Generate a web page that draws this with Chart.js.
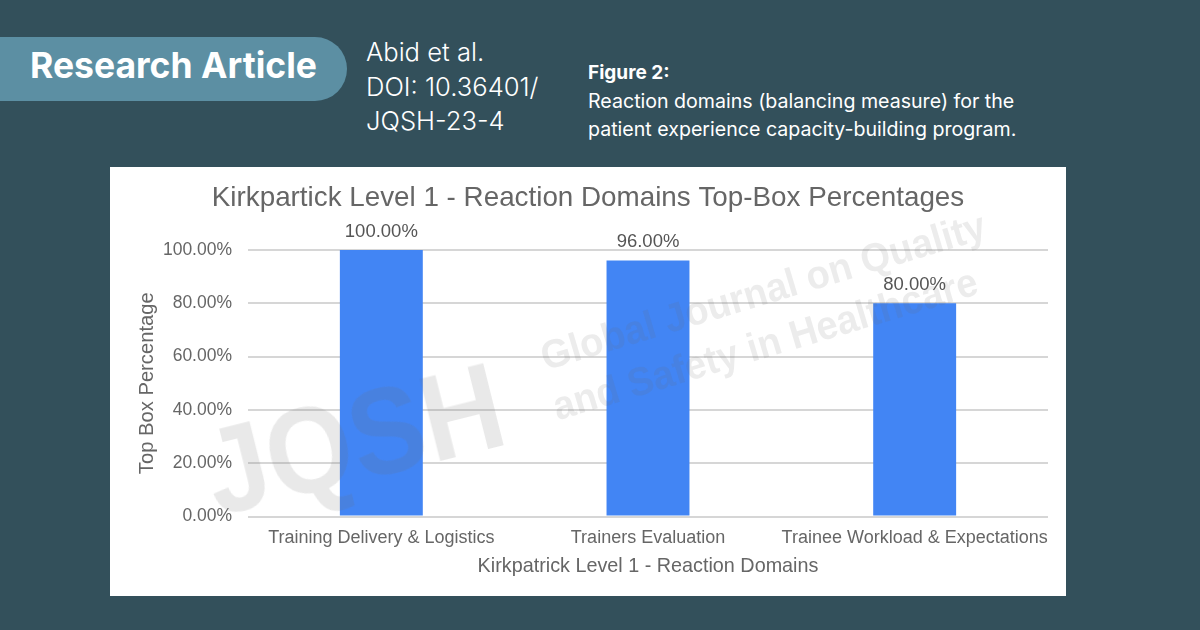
<!DOCTYPE html>
<html>
<head>
<meta charset="utf-8">
<script src="https://cdn.jsdelivr.net/npm/chart.js@4"></script>
<style>
  html, body { margin: 0; padding: 0; }
  body { width: 1200px; height: 630px; background: #33505b; position: relative; overflow: hidden; font-family: Inter, sans-serif; color: #fff; }
  .pill { position: absolute; left: 0; top: 37px; width: 347px; height: 64px; background: #5c8fa3; border-radius: 0 32px 32px 0; }
  .pill span { position: absolute; left: 30px; top: 7px; font-size: 35.5px; line-height: 44px; font-weight: 700; white-space: nowrap; }
  .meta { position: absolute; left: 366px; top: 35px; font-size: 25.6px; line-height: 34.5px; font-weight: 300; white-space: nowrap; }
  .caption { position: absolute; left: 588px; top: 58px; font-size: 19.6px; line-height: 28px; font-weight: 400; white-space: nowrap; }
  .caption b { font-size: 19px; font-weight: 700; }
  .card { position: absolute; left: 110px; top: 167px; width: 956px; height: 429px; background: #fff; }
  .card canvas { position: absolute; left: 0; top: 0; }
  .mark { position: absolute; white-space: nowrap; pointer-events: none; color: rgba(110,110,110,.15); font-family: "Liberation Sans", sans-serif; transform-origin: left bottom; }
  .mark.small { color: rgba(110,110,110,.13); font-size: 40px; line-height: 46px; font-weight: 700; transform: rotate(-16.7deg) scaleX(.95); }
</style>
</head>
<body>
<div class="pill"><span>Research Article</span></div>
<div class="meta">Abid et al.<br>DOI: 10.36401/<br>JQSH-23-4</div>
<div class="caption"><b>Figure 2:</b><br>Reaction domains (balancing measure) for the<br>patient experience capacity-building program.</div>
<div class="card"><canvas id="chart" width="956" height="429"></canvas></div>
<div class="mark" style="left:222px;top:413px;font-size:122px;line-height:122px;font-weight:700;transform:rotate(-14deg) scaleX(.91)">JQSH</div>
<div class="mark small" style="left:548px;top:333px">Global Journal on Quality</div>
<div class="mark small" style="left:560px;top:383px">and Safety in Healthcare</div>
<script>
const chartTitle = "Kirkpartick Level 1 - Reaction Domains Top-Box Percentages";
const categories = ["Training Delivery & Logistics", "Trainers Evaluation", "Trainee Workload & Expectations"];
const topBox = [100, 96, 80];
const yTicks = [0, 20, 40, 60, 80, 100];
const yTitle = "Top Box Percentage";
const xTitle = "Kirkpatrick Level 1 - Reaction Domains";

const FONT = "'Liberation Sans', Arial, sans-serif";

// value labels above the bars
const barLabels = {
  id: "barLabels",
  afterDatasetsDraw(chart) {
    const ctx = chart.ctx;
    ctx.save();
    ctx.font = "18.5px " + FONT;
    ctx.fillStyle = "#555";
    ctx.textAlign = "center";
    ctx.textBaseline = "bottom";
    chart.getDatasetMeta(0).data.forEach((bar, i) => {
      ctx.fillText(topBox[i].toFixed(2) + "%", bar.x, bar.y - 9);
    });
    ctx.restore();
  }
};

new Chart(document.getElementById("chart"), {
  type: "bar",
  data: {
    labels: categories,
    datasets: [{ data: topBox, backgroundColor: "#4285f4", barPercentage: 0.311, categoryPercentage: 1 }]
  },
  options: {
    responsive: false,
    animation: false,
    layout: { padding: { top: 0, right: 18, bottom: 17.5, left: 18 } },
    plugins: {
      legend: { display: false },
      tooltip: { enabled: false },
      title: {
        display: true,
        text: chartTitle,
        color: "#666",
        font: { family: FONT, size: 27.8, weight: "normal" },
        padding: { top: 14.3, bottom: 35.3 }
      }
    },
    scales: {
      x: {
        grid: { display: false, drawTicks: false },
        border: { display: false },
        ticks: { color: "#666", font: { family: FONT, size: 18 }, maxRotation: 0, autoSkip: false, padding: 11 },
        title: { display: true, text: xTitle, color: "#666", font: { family: FONT, size: 19.8 }, padding: { top: 0, bottom: 0 } },
        afterFit(scale) { scale.height = 62; }
      },
      y: {
        min: 0,
        max: 100,
        afterBuildTicks(scale) { scale.ticks = yTicks.map(v => ({ value: v })); },
        grid: { color: "#d6d6d6", lineWidth: 2, drawTicks: false },
        border: { display: false },
        ticks: { color: "#666", font: { family: FONT, size: 17.5 }, padding: 16, callback: v => v.toFixed(2) + "%" },
        title: { display: true, text: yTitle, color: "#666", font: { family: FONT, size: 20.2 }, padding: { top: 7, bottom: 0 } },
        afterFit(scale) { scale.width = 120; }
      }
    }
  },
  plugins: [barLabels]
});
</script>
</body>
</html>
